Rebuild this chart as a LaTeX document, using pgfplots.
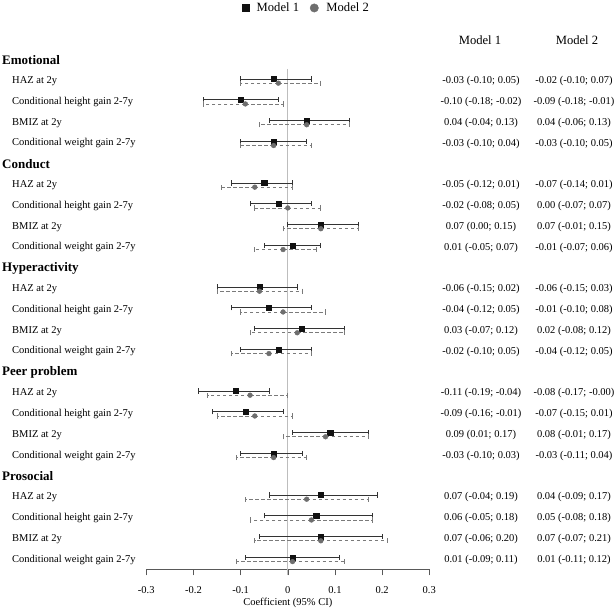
\documentclass[border=0pt]{standalone}
\usepackage{pgfplots}
\pgfplotsset{compat=1.18}
\usepackage{pgfplotstable}
\usepackage{fontspec}
\setmainfont{Liberation Serif}

% row: k index (0 = first group header), estimate, lower, upper
\pgfplotstableread{
row est lo hi
1  -0.03 -0.10 0.05
2  -0.10 -0.18 -0.02
3   0.04 -0.04 0.13
4  -0.03 -0.10 0.04
6  -0.05 -0.12 0.01
7  -0.02 -0.08 0.05
8   0.07  0.00 0.15
9   0.01 -0.05 0.07
11 -0.06 -0.15 0.02
12 -0.04 -0.12 0.05
13  0.03 -0.07 0.12
14 -0.02 -0.10 0.05
16 -0.11 -0.19 -0.04
17 -0.09 -0.16 -0.01
18  0.09  0.01 0.17
19 -0.03 -0.10 0.03
21  0.07 -0.04 0.19
22  0.06 -0.05 0.18
23  0.07 -0.06 0.20
24  0.01 -0.09 0.11
}\modelone

\pgfplotstableread{
row est lo hi
1  -0.02 -0.10 0.07
2  -0.09 -0.18 -0.01
3   0.04 -0.06 0.13
4  -0.03 -0.10 0.05
6  -0.07 -0.14 0.01
7   0.00 -0.07 0.07
8   0.07 -0.01 0.15
9  -0.01 -0.07 0.06
11 -0.06 -0.15 0.03
12 -0.01 -0.10 0.08
13  0.02 -0.08 0.12
14 -0.04 -0.12 0.05
16 -0.08 -0.17 0.00
17 -0.07 -0.15 0.01
18  0.08 -0.01 0.17
19 -0.03 -0.11 0.04
21  0.04 -0.09 0.17
22  0.05 -0.08 0.18
23  0.07 -0.07 0.21
24  0.01 -0.11 0.12
}\modeltwo

\definecolor{mone}{HTML}{111111}
\definecolor{monebar}{HTML}{333333}
\definecolor{mtwo}{HTML}{6E6E6E}
\definecolor{mtwobar}{HTML}{7A7A7A}
\definecolor{zeroline}{HTML}{BDBDBD}

\begin{document}
\begin{tikzpicture}
\path[use as bounding box] (0pt,0pt) rectangle (614pt,609pt);
\begin{axis}[
  at={(146.3pt,39.7pt)}, anchor=south west,
  scale only axis, width=283pt, height=500.3pt,
  xmin=-0.3, xmax=0.3,
  ymin=0.42, ymax=24.47, y dir=reverse,
  clip=false,
  axis x line*=bottom, hide y axis,
  axis line style={draw=black!65, line width=0.6pt},
  xtick={-0.3,-0.2,-0.1,0,0.1,0.2,0.3},
  xticklabels={-0.3,-0.2,-0.1,0,0.1,0.2,0.3},
  xtick pos=bottom, tick align=outside, major tick length=6pt,
  tick style={draw=black!65, line width=0.6pt},
  xticklabel style={font=\fontsize{10.5}{12}\selectfont, yshift=-8pt},
  xlabel={Coefficient (95\% CI)},
  xlabel style={font=\fontsize{10.5}{12}\selectfont, yshift=3pt},
  legend style={at={(0.566,1.122)}, anchor=center, draw=none, fill=none,
    legend columns=-1, font=\fontsize{12.6}{14}\selectfont,
    /tikz/every odd column/.append style={column sep=6pt},
    /tikz/every even column/.append style={column sep=9pt}},
  legend image code/.code={\draw[#1] plot coordinates {(0cm,0cm)};},
]
% zero reference line
\addplot[zeroline, line width=1pt, forget plot] coordinates {(0,0.42) (0,24.75)};

\addplot[only marks, mark=square*, mark size=2.6pt, mone,
  legend image post style={mark size=3.3pt},
  error bars/.cd, x dir=both, x explicit, error mark=|,
  error bar style={monebar, line width=0.7pt, solid},
  error mark options={monebar, mark size=2.6pt, line width=0.7pt, solid}]
  table[x=est, y expr=\thisrow{row}-0.1,
        x error plus expr=\thisrow{hi}-\thisrow{est},
        x error minus expr=\thisrow{est}-\thisrow{lo}] {\modelone};
\addlegendentry{Model 1}

\addplot[only marks, mark=*, mark size=2.4pt, mtwo,
  legend image post style={mark size=4.2pt},
  error bars/.cd, x dir=both, x explicit, error mark=|,
  error bar style={mtwobar, line width=0.7pt, dash pattern=on 3.5pt off 2.5pt},
  error mark options={mtwobar, mark size=2.6pt, line width=0.7pt, solid}]
  table[x=est, y expr=\thisrow{row}+0.1,
        x error plus expr=\thisrow{hi}-\thisrow{est},
        x error minus expr=\thisrow{est}-\thisrow{lo}] {\modeltwo};
\addlegendentry{Model 2}
\end{axis}

% column headers
\node[font=\fontsize{12.6}{14}\selectfont] at (480pt,568.3pt) {Model 1};
\node[font=\fontsize{12.6}{14}\selectfont] at (577pt,568.3pt) {Model 2};

% group headers
\foreach \k/\t in {0/Emotional,5/Conduct,10/Hyperactivity,15/Peer problem,20/Prosocial}{
  \node[anchor=west, inner sep=0pt, font=\fontsize{13}{15}\selectfont\bfseries] at (2pt,{548.7pt-20.8pt*\k}) {\t};
}
% row labels
\foreach \g in {0,5,10,15,20}{
  \node[anchor=west, inner sep=0pt, font=\fontsize{10.5}{12}\selectfont] at (12pt,{548.7pt-20.8pt*(\g+1)}) {HAZ at 2y};
  \node[anchor=west, inner sep=0pt, font=\fontsize{10.5}{12}\selectfont] at (12pt,{548.7pt-20.8pt*(\g+2)}) {Conditional height gain 2-7y};
  \node[anchor=west, inner sep=0pt, font=\fontsize{10.5}{12}\selectfont] at (12pt,{548.7pt-20.8pt*(\g+3)}) {BMIZ at 2y};
  \node[anchor=west, inner sep=0pt, font=\fontsize{10.5}{12}\selectfont] at (12pt,{548.7pt-20.8pt*(\g+4)}) {Conditional weight gain 2-7y};
}
% value columns
\foreach \k/\u/\v in {
 1/{-0.03 (-0.10; 0.05)}/{-0.02 (-0.10; 0.07)},
 2/{-0.10 (-0.18; -0.02)}/{-0.09 (-0.18; -0.01)},
 3/{0.04 (-0.04; 0.13)}/{0.04 (-0.06; 0.13)},
 4/{-0.03 (-0.10; 0.04)}/{-0.03 (-0.10; 0.05)},
 6/{-0.05 (-0.12; 0.01)}/{-0.07 (-0.14; 0.01)},
 7/{-0.02 (-0.08; 0.05)}/{0.00 (-0.07; 0.07)},
 8/{0.07 (0.00; 0.15)}/{0.07 (-0.01; 0.15)},
 9/{0.01 (-0.05; 0.07)}/{-0.01 (-0.07; 0.06)},
 11/{-0.06 (-0.15; 0.02)}/{-0.06 (-0.15; 0.03)},
 12/{-0.04 (-0.12; 0.05)}/{-0.01 (-0.10; 0.08)},
 13/{0.03 (-0.07; 0.12)}/{0.02 (-0.08; 0.12)},
 14/{-0.02 (-0.10; 0.05)}/{-0.04 (-0.12; 0.05)},
 16/{-0.11 (-0.19; -0.04)}/{-0.08 (-0.17; -0.00)},
 17/{-0.09 (-0.16; -0.01)}/{-0.07 (-0.15; 0.01)},
 18/{0.09 (0.01; 0.17)}/{0.08 (-0.01; 0.17)},
 19/{-0.03 (-0.10; 0.03)}/{-0.03 (-0.11; 0.04)},
 21/{0.07 (-0.04; 0.19)}/{0.04 (-0.09; 0.17)},
 22/{0.06 (-0.05; 0.18)}/{0.05 (-0.08; 0.18)},
 23/{0.07 (-0.06; 0.20)}/{0.07 (-0.07; 0.21)},
 24/{0.01 (-0.09; 0.11)}/{0.01 (-0.11; 0.12)}}{
  \node[font=\fontsize{10.5}{12}\selectfont] at (481pt,{548.7pt-20.8pt*\k}) {\u};
  \node[font=\fontsize{10.5}{12}\selectfont] at (574pt,{548.7pt-20.8pt*\k}) {\v};
}
\end{tikzpicture}
\end{document}
